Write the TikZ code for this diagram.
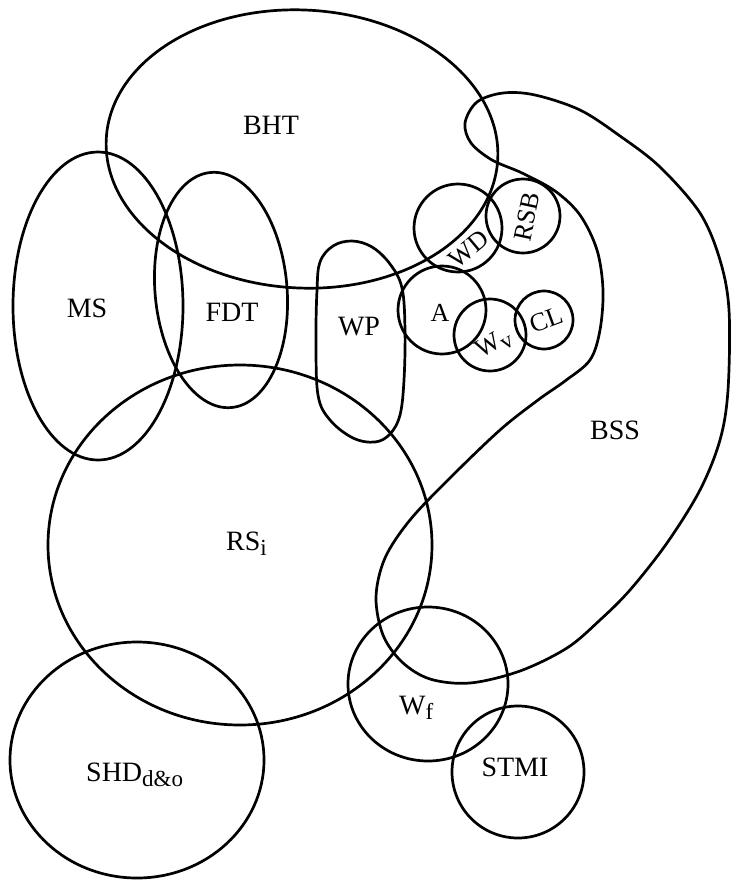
\documentclass[tikz,border=0pt]{standalone}
\usepackage{fontspec}
\setmainfont{Liberation Serif}
\newcommand\subtx[1]{\raisebox{-5pt}{\fontsize{23}{24}\selectfont #1}}
\begin{document}
\begin{tikzpicture}[x=1pt,y=-1pt,
  shp/.style={line width=2.7pt, line join=round},
  lbl/.style={font=\fontsize{28}{30}\selectfont, inner sep=0pt},
  slbl/.style={font=\fontsize{26}{28}\selectfont, inner sep=0pt}]
\useasboundingbox (0,0) rectangle (731,881);

% BHT
\draw[shp, rotate around={-3:(302,149)}] (302,149) ellipse [x radius=196, y radius=139];
% MS
\draw[shp] (98,306) ellipse [x radius=85, y radius=154];
% FDT
\draw[shp, rotate around={5:(221,290)}] (221,290) ellipse [x radius=66, y radius=118];
% WP
\draw[shp] plot[smooth cycle, tension=0.6] coordinates {
  (320,262) (333,246) (352,241) (372,247) (390,264) (402,288) (405,330)
  (404,380) (400,415) (390,434) (375,442) (353,438) (330,420) (318,395)
  (316,340) (317,290)};
% RS_i
\draw[shp] (240,545) ellipse [x radius=192, y radius=180];
% SHD
\draw[shp] (137,760) ellipse [x radius=127, y radius=118];
% BSS
\draw[shp] plot[smooth cycle, tension=0.55] coordinates {
  (503,93) (535,95) (580,110) (620,136) (660,167) (700,213) (720,260)
  (729,310) (728,390) (720,440) (700,490) (667,543) (630,590) (600,620)
  (567,648) (520,671) (470,683) (430,679) (402,662) (383,635) (376,597)
  (385,558) (410,520) (450,478) (500,430) (538,400) (565,381) (590,360)
  (600,330) (603,290) (597,250) (580,215) (555,191) (522,173) (492,160)
  (471,143) (465,123) (477,102)};
% small circles
\draw[shp] (442,310) circle [radius=44];
\draw[shp] (458,228) circle [radius=44];
\draw[shp] (523,216) circle [radius=37];
\draw[shp] (490,335) circle [radius=36];
\draw[shp] (544,320) circle [radius=29];
% Wf, STMI
\draw[shp] (428,684) ellipse [x radius=80, y radius=77];
\draw[shp] (518,772) circle [radius=66];

% labels
\node[lbl] (bht) at (271,125) {BHT};
\node[lbl] (ms) at (87,308) {MS};
\node[lbl] (fdt) at (232,312) {FDT};
\node[lbl] (wp) at (359,327) {WP};
\node[slbl] (a) at (440,313) {A};
\node[slbl, rotate=40] (wd) at (469,249) {WD};
\node[slbl, rotate=78] (rsb) at (527,217) {RSB};
\node[slbl, rotate=30] (wv) at (494,344) {W\subtx{v}};
\node[slbl, rotate=20] (cl) at (546,320) {CL};
\node[lbl] (bss) at (615,430) {BSS};
\node[lbl, anchor=base west] (rsi) at (226,550) {RS\subtx{i}};
\node[lbl, anchor=base west] (wf) at (399,714) {W\subtx{f}};
\node[lbl, anchor=base] (stmi) at (515,776) {STMI};
\node[lbl, anchor=base west] (shd) at (86,781) {SHD\subtx{d\&o}};
\end{tikzpicture}
\end{document}
